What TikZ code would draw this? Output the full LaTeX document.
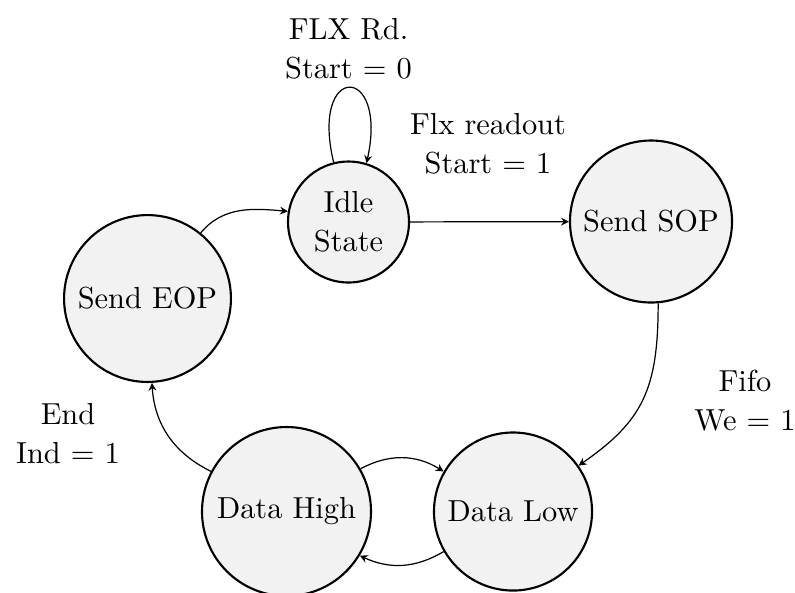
\documentclass[tikz,border=0pt]{standalone}
\usetikzlibrary{arrows.meta}
\begin{document}
\begin{tikzpicture}[x=0.329pt,y=-0.329pt,
  state/.style={circle,draw=black,line width=0.7pt,fill=gray!10,inner sep=0pt,align=center,font=\fontsize{10}{12.8}\selectfont},
  lbl/.style={align=center,inner sep=0pt,font=\fontsize{10}{12.8}\selectfont},
  conn/.style={line width=0.4pt,-{Stealth[length=2.6pt,width=2.6pt,inset=0.9pt]}}]
\useasboundingbox (0,0) rectangle (795,592);
\node[state,minimum size=39.8pt] (idle) at (348.5,222) {Idle\\State};
\node[state,minimum size=53.3pt] (sop) at (651,221.5) {Send SOP};
\node[state,minimum size=54.9pt] (eop) at (147.5,298.5) {Send EOP};
\node[state,minimum size=55.6pt] (dh) at (286.5,511.5) {Data High};
\node[state,minimum size=52pt] (dl) at (513,511.5) {Data Low};
\node[lbl] (l1) at (348.5,49) {FLX Rd.\\Start = 0};
\node[lbl] (l2) at (488,143.5) {Flx readout\\Start = 1};
\node[lbl] (l3) at (745,401) {Fifo\\We = 1};
\node[lbl] (l4) at (68,433.5) {End\\Ind = 1};
\draw[conn] (idle.104) .. controls +(-24,-100) and +(22,-100) .. (idle.73);
\draw[conn] (idle) -- (sop);
\draw[conn] (sop.-85) .. controls +(0,85) and +(65,-45) .. (dl.35);
\draw[conn] (dh.30) to[bend left=30] (dl.150);
\draw[conn] (dl.210) to[bend left=28] (dh.-31);
\draw[conn] (dh.152) to[bend left=30] (eop.-87);
\draw[conn] (eop.51) to[out=50,in=175] (idle.170);
\end{tikzpicture}
\end{document}
